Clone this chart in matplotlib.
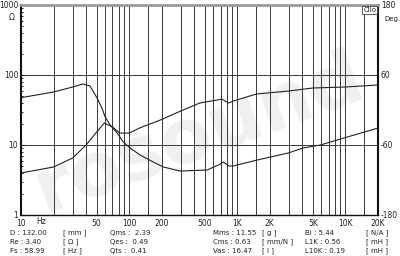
import matplotlib
matplotlib.use('Agg')
import matplotlib.pyplot as plt
import numpy as np

# Impedance modulus (ohm) vs frequency
freq_z = [10, 20, 30, 40, 50, 59, 70, 82, 100, 125, 195, 300, 450, 650, 720, 830, 920,
          1500, 3000, 5000, 10000, 20000]
imp = [3.98, 4.85, 6.52, 10.0, 15.3, 20.6, 18.1, 14.8, 14.8, 17.5, 22.8, 30.6, 39.8,
       43.9, 45.4, 39.8, 42.5, 53.5, 59.1, 65.2, 67.4, 72.0]

# Impedance phase (deg) vs frequency
freq_ph = [10, 20, 30, 37.5, 43.5, 50.5, 56, 60, 66.7, 77.5, 88, 102, 126, 167, 207,
           296, 526, 700, 740, 840, 920, 1530, 2960, 4060, 5870, 10400, 20000]
phase = [21.1, 30.9, 39.4, 44.6, 41.1, 20.6, 3.4, -12.0, -25.7, -39.4, -54.9, -65.1,
         -77.1, -89.1, -97.7, -104.6, -102.9, -92.6, -89.1, -96.0, -96.0, -85.7, -73.7,
         -65.1, -60.0, -46.3, -30.9]

grid_freqs = [20, 30, 40, 50, 60, 70, 80, 90, 100, 150, 200, 300, 400, 500, 600, 700,
              800, 900, 1000, 1500, 2000, 3000, 4000, 5000, 6000, 7000, 8000, 9000,
              10000, 15000]
tick_freqs = [10, 50, 100, 200, 500, 1000, 2000, 5000, 10000, 20000]
tick_names = ['10', '50', '100', '200', '500', '1K', '2K', '5K', '10K', '20K']
phase_ticks = [-180, -60, 60, 180]
phase_names = ['-180', '-60', '60', '180']

params = [
    [('D : 132.00', '[ mm ]'), ('Qms :  2.39', ''), ('Mms : 11.55', '[ g ]'), ('Bl : 5.44', '[ N/A ]')],
    [('Re : 3.40', '[ \u03a9 ]'), ('Qes :  0.49', ''), ('Cms : 0.63', '[ mm/N ]'), ('L1K : 0.56', '[ mH ]')],
    [('Fs : 58.99', '[ Hz ]'), ('Qts :  0.41', ''), ('Vas : 16.47', '[ l ]'), ('L10K : 0.19', '[ mH ]')],
]

W, H = 400, 256
fig = plt.figure(figsize=(W / 100, H / 100), dpi=100)
fig.patch.set_facecolor('white')

# faint watermark behind the chart
fig.text(200 / W, 1 - 135 / H, 'rosound', fontsize=54, fontweight='bold', color='#f0f0f0',
         rotation=20, ha='center', va='center', zorder=-1)

ax = fig.add_axes([21 / W, 1 - 215 / H, 357 / W, 210 / H])
ax.patch.set_alpha(0)
ax.set_xscale('log')
ax.set_yscale('log')
ax.set_xlim(10, 20000)
ax.set_ylim(1, 1000)

for f in grid_freqs:
    ax.axvline(f, color='#3a3a3a', lw=0.7, zorder=1)
for v in [10, 100]:
    ax.axhline(v, color='#3a3a3a', lw=0.7, zorder=1)

ax.plot(freq_z, imp, color='#222222', lw=0.8, zorder=3)

ax.set_xticks(tick_freqs)
ax.set_xticklabels(tick_names)
ax.xaxis.set_minor_locator(matplotlib.ticker.NullLocator())
ax.tick_params(axis='x', length=0, pad=3, labelsize=5.5, colors='#222222')
ax.set_yticks([1, 10, 100, 1000])
ax.set_yticklabels(['1', '10', '100', '1000'])
ax.tick_params(axis='y', which='major', direction='in', length=3, pad=2, labelsize=5.5,
               colors='#222222')
ax.tick_params(axis='y', which='minor', direction='in', length=1.5)
ax.yaxis.set_minor_formatter(matplotlib.ticker.NullFormatter())

for s in ['left', 'right', 'bottom']:
    ax.spines[s].set_color('#111111')
ax.spines['left'].set_linewidth(1.5)
ax.spines['right'].set_linewidth(1.5)
ax.spines['bottom'].set_linewidth(1.0)
ax.spines['top'].set_color('#9a9a9a')
ax.spines['top'].set_linewidth(2.0)

ax2 = ax.twinx()
ax2.set_ylim(-180, 180)
ax2.plot(freq_ph, phase, color='#222222', lw=0.8, zorder=3)
ax2.set_yticks(phase_ticks)
ax2.set_yticklabels(phase_names)
ax2.tick_params(axis='y', length=0, pad=2, labelsize=5.5, colors='#222222')
for s in ax2.spines.values():
    s.set_visible(False)

fs = 5
fig.text(12 / W, 1 - 18 / H, '\u03a9', fontsize=5.5, color='#222222', ha='center', va='center')
fig.text(41 / W, 1 - 222 / H, 'Hz', fontsize=5.5, color='#222222', ha='center', va='center')
fig.text(384 / W, 1 - 19 / H, 'Deg.', fontsize=fs, color='#222222', ha='left', va='center')
ax.text(0.995, 0.99, 'Clio', transform=ax.transAxes, fontsize=5, color='#222222',
        ha='right', va='top', zorder=4,
        bbox=dict(boxstyle='square,pad=0.15', fc='white', ec='#444444', lw=0.6))

col_x = [(10, 63), (110, None), (213, 262), (305, 366)]
row_y = [233, 242, 251]
for r, row in enumerate(params):
    for c, (lab, unit) in enumerate(row):
        x0, x1 = col_x[c]
        fig.text(x0 / W, 1 - row_y[r] / H, lab, fontsize=fs, color='#222222',
                 ha='left', va='center')
        if unit:
            fig.text(x1 / W, 1 - row_y[r] / H, unit, fontsize=fs, color='#222222',
                     ha='left', va='center')

fig.savefig('out.png', dpi=100)
